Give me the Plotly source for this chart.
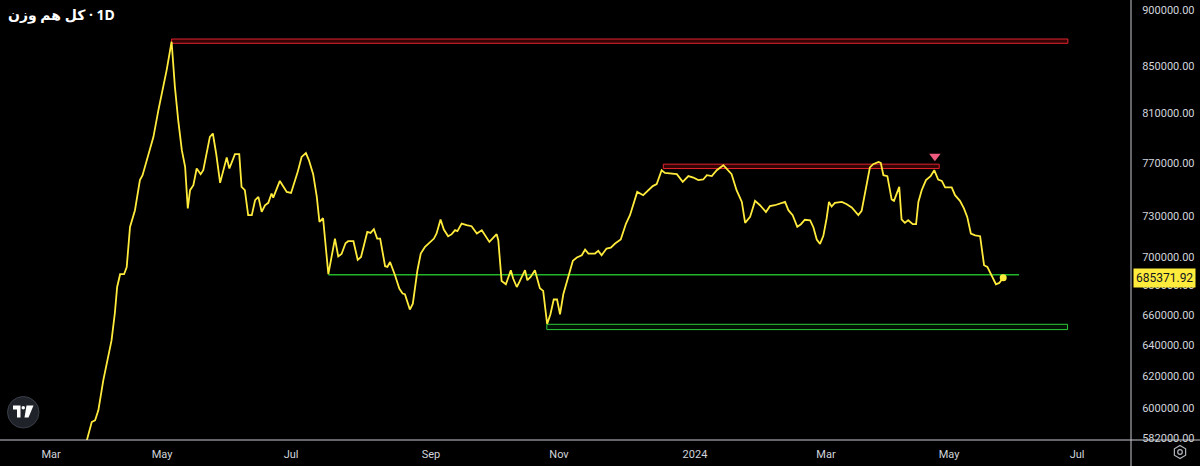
import math
import plotly.graph_objects as go

# ---- data (trading-session index, index value) ----
session = [26.3, 27.8, 28.8, 29.8, 31.3, 33.8, 34.8, 35.5, 36.4, 37.6, 38.4, 39.4, 40.9, 42.4, 43.2,
           44.5, 46.0, 46.5, 48.0, 49.0, 50.5, 52.0, 53.0, 54.0, 55.1, 56.1, 56.9, 57.6, 58.6, 59.6,
           60.8, 61.6, 63.6, 64.5, 65.5, 66.7, 68.7, 69.5, 71.2, 72.5, 73.2, 74.2, 75.2, 76.3, 77.3,
           78.3, 79.3, 80.3, 81.3, 82.3, 82.8, 84.8, 86.9, 88.2, 90.2, 91.4, 92.7, 93.6, 94.9, 96.0,
           96.8, 97.9, 99.5, 101.5, 102.5, 103.5, 104.7, 105.5, 107.1, 108.4, 109.4, 111.3, 112.3, 113.3, 114.3,
           115.2, 116.7, 117.4, 118.2, 119.7, 121.0, 122.0, 122.7, 124.2, 125.1, 126.5, 127.5, 128.8, 130.3, 131.5,
           132.3, 133.5, 134.5, 135.8, 136.9, 137.9, 138.6, 139.9, 141.4, 142.9, 144.5, 146.0, 148.3, 149.5, 150.5,
           151.0, 152.0, 153.3, 154.8, 155.5, 156.6, 157.4, 159.1, 159.8, 160.8, 162.1, 163.6, 164.6, 165.8, 166.8,
           167.8, 168.8, 169.7, 170.7, 172.2, 173.6, 174.8, 176.3, 177.3, 178.3, 180.3, 181.3, 182.3, 183.8, 185.1,
           186.4, 188.1, 189.7, 190.9, 191.9, 193.1, 194.9, 196.5, 197.8, 199.0, 200.5, 201.5, 203.0, 205.1, 206.9,
           208.6, 210.1, 211.6, 213.1, 214.2, 215.7, 217.2, 219.2, 220.2, 221.7, 223.2, 224.8, 225.8, 227.3, 228.8,
           230.3, 232.1, 233.3, 234.8, 236.4, 237.9, 238.9, 240.2, 241.6, 242.7, 243.9, 245.5, 246.5, 247.5, 248.5,
           249.5, 250.5, 251.2, 252.0, 253.0, 255.1, 256.6, 258.1, 259.1, 260.1, 261.1, 262.6, 263.6, 264.6, 266.2,
           266.9, 267.7, 268.9, 270.2, 270.9, 272.5, 273.2, 274.2, 275.2, 276.6, 277.6, 278.3, 279.3, 280.6, 282.0,
           283.1, 284.3, 285.4, 286.4, 288.4, 289.4, 290.9, 292.1, 293.1, 294.2, 295.5, 297.0, 298.2, 299.2, 300.5,
           301.8, 302.8, 304.0]

value = [580700, 591700, 592700, 598800, 617400, 643000, 661000, 678900, 687800, 687800, 692900, 721700, 734100, 756900, 760700,
         772500, 785700, 791000, 812800, 825300, 846600, 871400, 832300, 804600, 780300, 767200, 735400, 749200, 753000, 765900,
         761500, 764600, 791000, 793700, 777700, 754800, 774600, 765900, 777200, 777200, 751700, 749200, 730400, 730400, 741600,
         744100, 732800, 737800, 739600, 746700, 743600, 756300, 747900, 747100, 763100, 775000, 778000, 772500, 761500, 744100,
         725400, 728100, 687800, 713200, 700300, 702100, 709800, 711300, 711300, 697900, 700000, 718000, 717300, 720000, 713200,
         713200, 693400, 692900, 696400, 687100, 677800, 674400, 673900, 663500, 667500, 690600, 702400, 707200, 710800, 713200,
         716900, 727200, 719800, 714900, 716400, 719300, 718600, 724200, 723000, 722200, 716900, 719300, 710800, 713900, 716400,
         712000, 683100, 680800, 690600, 684800, 678900, 682400, 690600, 683600, 685900, 690600, 678000, 676200, 653800, 660300,
         670300, 670300, 660300, 673900, 685300, 697300, 699600, 701200, 705300, 702400, 702400, 704300, 701200, 706000, 706700,
         709600, 712500, 724200, 730400, 739100, 747900, 745400, 749200, 752300, 753800, 764600, 762500, 762000, 761500, 755600,
         760000, 758900, 756900, 757400, 760700, 760000, 764600, 768500, 765900, 761500, 749200, 740300, 724700, 729100, 741100,
         737800, 732800, 737100, 737800, 739100, 740300, 734100, 730400, 721700, 723700, 727000, 726600, 721300, 712500, 709300,
         715200, 728100, 740300, 736800, 739600, 740300, 738600, 736100, 732800, 730400, 733600, 751700, 766700, 769300, 771100,
         770300, 760700, 760000, 742100, 741100, 751700, 727200, 724700, 726600, 723700, 723700, 740300, 749200, 756900, 760000,
         764600, 757400, 756300, 751300, 751300, 745400, 741100, 735400, 729100, 716900, 715600, 714900, 694100, 692900, 687100,
         680800, 681700, 685371.92]

# support / resistance zones
zone_start = [52.0, 201.0, 165.7]
zone_end = [323.6, 284.6, 323.5]
zone_low = [870000, 765900, 650100]
zone_high = [873800, 769300, 653600]
zone_kind = ["res", "res", "sup"]

support_line_start = 99.5
support_line_end = 308.8
support_line_value = 687400

signal_session = [283.3]
signal_value = [775600]

month_ticks = [15.5, 49.1, 88.2, 130.6, 169.4, 210.6, 250.3, 287.6, 326.4]
month_labels = ["Mar", "May", "Jul", "Sep", "Nov", "2024", "Mar", "May", "Jul"]

price_ticks = [582000, 600000, 620000, 640000, 660000, 680000, 700000, 730000,
               770000, 810000, 850000, 900000]

symbol_name = "کل هم وزن"
interval = "1D"
title_text = symbol_name + "\u200e · " + interval

# ---- layout constants ----
W, H = 1200, 466
ML, MR, MT, MB = 0, 69, 0, 26
PW, PH = W - ML - MR, H - MT - MB


def px(x):
    return (x - ML) / PW


def py(y):
    return 1 - (y - MT) / PH


LINE = "#ffeb3b"
TXT = "#d1d4dc"
FONT = "Roboto, Noto Sans, DejaVu Sans, sans-serif"

fig = go.Figure()

fig.add_trace(go.Scatter(x=session, y=value, mode="lines",
                         line=dict(color=LINE, width=1.8), hoverinfo="skip"))
fig.add_trace(go.Scatter(x=[session[-1]], y=[value[-1]], mode="markers",
                         marker=dict(color=LINE, size=7), hoverinfo="skip"))
fig.add_trace(go.Scatter(x=signal_session, y=signal_value, mode="markers",
                         marker=dict(symbol="triangle-down", color="#ef5b7f", size=10),
                         hoverinfo="skip"))

shapes = []
for s, e, lo, hi, k in zip(zone_start, zone_end, zone_low, zone_high, zone_kind):
    if k == "res":
        lc, fc = "#e0242c", "rgba(110,8,10,0.5)"
    else:
        lc, fc = "#2dc83a", "rgba(10,80,14,0.25)"
    shapes.append(dict(type="rect", xref="x", yref="y", x0=s, x1=e, y0=lo, y1=hi,
                       line=dict(color=lc, width=1), fillcolor=fc, layer="below"))
shapes.append(dict(type="line", xref="x", yref="y", x0=support_line_start, x1=support_line_end,
                   y0=support_line_value, y1=support_line_value,
                   line=dict(color="#22b52a", width=1.5), layer="below"))

# frame lines
shapes.append(dict(type="line", xref="paper", yref="paper", x0=px(0), x1=px(W),
                   y0=py(440), y1=py(440), line=dict(color="#c8cbd2", width=1)))
shapes.append(dict(type="line", xref="paper", yref="paper", x0=px(1131), x1=px(1131),
                   y0=py(0), y1=py(H), line=dict(color="#c8cbd2", width=1)))

# TradingView badge
shapes.append(dict(type="circle", xref="paper", yref="paper", x0=px(7.5), x1=px(39),
                   y0=py(428), y1=py(396.5), fillcolor="#1f2229",
                   line=dict(color="#3a3e48", width=1)))


def poly(pts):
    return "M " + " L ".join(f"{px(a)},{py(b)}" for a, b in pts) + " Z"


shapes.append(dict(type="path", xref="paper", yref="paper",
                   path=poly([(13, 405.5), (20.5, 405.5), (20.5, 417.5), (17, 417.5), (17, 409.5), (13, 409.5)]),
                   fillcolor="white", line=dict(width=0)))
shapes.append(dict(type="circle", xref="paper", yref="paper", x0=px(21.5), x1=px(25),
                   y0=py(409.5), y1=py(406), fillcolor="white", line=dict(width=0)))
shapes.append(dict(type="path", xref="paper", yref="paper",
                   path=poly([(26.5, 405.5), (33.5, 405.5), (28.5, 417.5), (24.5, 417.5)]),
                   fillcolor="white", line=dict(width=0)))

# settings hexagon
cx, cy, r = 1180, 452, 6.5
hexpts = [(cx + r * math.cos(math.radians(90 + 60 * i)), cy + r * math.sin(math.radians(90 + 60 * i)))
          for i in range(6)]
shapes.append(dict(type="path", xref="paper", yref="paper", path=poly(hexpts),
                   line=dict(color="#b2b5be", width=1.2)))
shapes.append(dict(type="circle", xref="paper", yref="paper", x0=px(cx - 2.3), x1=px(cx + 2.3),
                   y0=py(cy + 2.3), y1=py(cy - 2.3), line=dict(color="#b2b5be", width=1.2)))

annotations = [
    dict(text="<b>" + title_text + "</b>", xref="paper", yref="paper", x=px(6), y=py(14),
         xanchor="left", yanchor="middle", showarrow=False,
         font=dict(family="Noto Sans, DejaVu Sans, sans-serif", size=14, color="#ffffff")),
    dict(text=f"{value[-1]:.2f}", xref="paper", yref="y", x=1, xshift=2,
         y=math.log10(value[-1]), xanchor="left", yanchor="middle", showarrow=False,
         bgcolor="#ffeb3b", borderpad=2,
         font=dict(family=FONT, size=12, color="#131722")),
]

fig.update_layout(
    width=W, height=H,
    margin=dict(l=ML, r=MR, t=MT, b=MB, pad=0, autoexpand=False),
    paper_bgcolor="#000000", plot_bgcolor="#000000",
    showlegend=False,
    shapes=shapes, annotations=annotations,
    xaxis=dict(range=[0, PW / 3.3], showgrid=False, zeroline=False, showline=False,
               automargin=False,
               tickmode="array", tickvals=month_ticks, ticktext=month_labels,
               ticks="outside", ticklen=4, tickcolor="rgba(0,0,0,0)",
               tickfont=dict(family=FONT, size=11, color=TXT), fixedrange=True),
    yaxis=dict(type="log", side="right", automargin=False,
               range=[math.log10(581000), math.log10(909200)],
               showgrid=False, zeroline=False, showline=False,
               tickmode="array", tickvals=price_ticks,
               ticktext=[f"{v:.2f}" for v in price_ticks],
               ticks="outside", ticklen=8, tickcolor="rgba(0,0,0,0)",
               tickfont=dict(family=FONT, size=11, color=TXT), fixedrange=True),
)

fig.write_html("out.html", config={"displayModeBar": False},
               post_script="document.body.style.margin='0';document.body.style.background='#000';")
